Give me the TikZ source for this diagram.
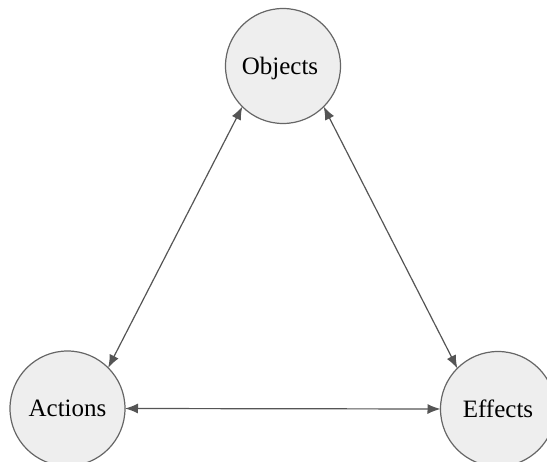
\documentclass[tikz,border=0pt]{standalone}
\usepackage{fontspec}
\setmainfont{Liberation Serif}
\usetikzlibrary{arrows.meta}
\definecolor{nodefill}{HTML}{EEEEEE}
\definecolor{nodeline}{HTML}{666666}
\definecolor{edgecol}{HTML}{555555}
\begin{document}
\begin{tikzpicture}[x=1pt,y=-1pt,
  concept/.style={circle, draw=nodeline, fill=nodefill, line width=1.2pt, minimum size=115pt, inner sep=0pt, outer sep=0pt, text depth=0pt, font=\fontsize{25}{30}\selectfont},
  link/.style={draw=edgecol, line width=1.2pt, {Latex[length=13pt,width=10pt]}-{Latex[length=13pt,width=10pt]}}]
\useasboundingbox (0,0) rectangle (547,462);
\node[concept] (obj) at (283,66) {\hspace*{-6pt}Objects};
\node[concept] (act) at (67.5,408.5) {Actions};
\node[concept] (eff) at (498,409) {Effects};
\draw[link] (obj.south west) -- (act.north east);
\draw[link] (obj.south east) -- (eff.north west);
\draw[link] (act.east) -- (eff.west);
\end{tikzpicture}
\end{document}
